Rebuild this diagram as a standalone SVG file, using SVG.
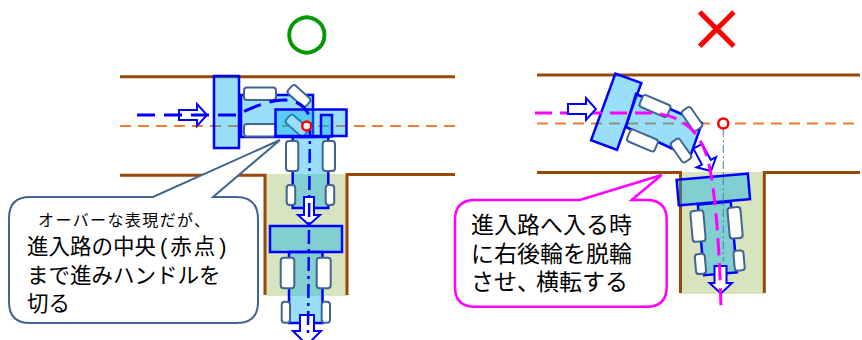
<svg xmlns="http://www.w3.org/2000/svg" width="862" height="340" viewBox="0 0 862 340">
<defs>
<style>
.road{stroke:#984807;stroke-width:3;fill:none}
.pit{fill:#d7e4bd}
.center{stroke:#ed7d31;stroke-width:2;stroke-dasharray:11 7;fill:none}
.veh{fill:#00b0f0;fill-opacity:0.4;stroke:#0000ff;stroke-width:2.5}
.wheel{fill:#ffffff;stroke:#41658f;stroke-width:2}
.arrow{fill:#ffffff;stroke:#0000ff;stroke-width:2}
.pb{stroke:#0000ff;stroke-width:3;fill:none;stroke-dasharray:18 9}
.pbv{stroke:#0000ff;stroke-width:2.5;fill:none;stroke-dasharray:14 5 3 5}
.pm{stroke:#ff00ff;stroke-width:3;fill:none;stroke-dasharray:17 8}
.dot{fill:#ffffff;stroke:#ff0000;stroke-width:2.5}
.call{fill:#ffffff;stroke:#41658f;stroke-width:2}
.callm{fill:#ffffff;stroke:#ff00ff;stroke-width:2.5}
.t{font-family:"Liberation Sans","Noto Sans CJK JP","Noto Sans CJK SC",sans-serif;fill:#000000}
.ok{font-family:"DejaVu Sans","Noto Sans CJK JP",sans-serif;fill:#009900;stroke:#009900;stroke-width:1}
.ng{font-family:"Noto Sans CJK JP","Noto Sans CJK SC",sans-serif;fill:#ff0000;stroke:#ff0000;stroke-width:1.2}
</style>
<path id="arr" class="arrow" d="M -28 -5 L -10 -5 L -10 -11 L 0 0 L -10 11 L -10 5 L -28 5 Z"/>
</defs>

<g id="marks">
<text class="ok" x="306.7" y="48" font-size="50" text-anchor="middle">○</text>
<text class="ng" x="716.7" y="50" font-size="56" text-anchor="middle">×</text>
</g>

<g id="road-left">
<rect class="pit" x="266" y="174" width="81" height="122"/>
<path class="road" d="M120 76.7 H455 M120 175.3 H265 V295 M347 295 V174.5 H455"/>
<path class="center" d="M120 126 H455"/>
</g>

<g id="road-right">
<rect class="pit" x="681" y="172" width="83" height="122"/>
<path class="road" d="M537 75 H860 M537 172.5 H680.5 V293 M764.3 293 V172.5 H860"/>
<path class="center" d="M537 123.5 H860"/>
</g>

<g id="left-vehicle-1">
<rect class="veh" x="214" y="76" width="25" height="72"/>
<rect class="veh" x="241" y="95" width="72" height="42"/>
<rect class="wheel" x="244" y="87.5" width="32" height="12.5" rx="3"/>
<rect class="wheel" x="244" y="124" width="32" height="12.5" rx="3"/>
<rect class="wheel" x="-12" y="-5.5" width="24" height="11" rx="3" transform="translate(299 96) rotate(42)"/>
<rect class="wheel" x="-12" y="-5.5" width="24" height="11" rx="3" transform="translate(297 125.5) rotate(42)"/>
</g>

<g id="left-vehicle-2">
<rect class="veh" x="275.5" y="109.5" width="71" height="26.5"/>
<rect class="veh" x="321" y="115" width="11" height="21.5"/>
<rect class="veh" x="292.7" y="137" width="35.6" height="71"/>
<rect class="wheel" x="286" y="141" width="12.3" height="30" rx="3"/>
<rect class="wheel" x="322.7" y="141" width="12.3" height="30" rx="3"/>
<rect class="wheel" x="286.7" y="185" width="8.5" height="20" rx="3"/>
<rect class="wheel" x="325.7" y="185" width="8.5" height="20" rx="3"/>
</g>

<g id="left-vehicle-3">
<rect class="veh" x="270" y="226" width="72" height="26"/>
<rect class="veh" x="289" y="252" width="33.5" height="71"/>
<rect class="wheel" x="280.7" y="257.7" width="13.6" height="30.6" rx="3"/>
<rect class="wheel" x="316.7" y="257.7" width="14" height="30.6" rx="3"/>
<rect class="wheel" x="281.7" y="301.7" width="8.3" height="21" rx="3"/>
<rect class="wheel" x="321.7" y="301.7" width="8.3" height="21" rx="3"/>
</g>

<g id="right-vehicle-1">
<rect class="veh" x="-13.8" y="-35.5" width="27.6" height="71" transform="translate(616.2 111.7) rotate(20)"/>
<polygon class="veh" points="636,94 702,123 690,157 626,127"/>
<rect class="wheel" x="-15" y="-6.5" width="30" height="13" rx="3" transform="translate(655 106) rotate(23)"/>
<rect class="wheel" x="-15" y="-6.5" width="30" height="13" rx="3" transform="translate(642.5 140.5) rotate(23)"/>
<rect class="wheel" x="-12" y="-5.5" width="24" height="11" rx="3" transform="translate(692 119) rotate(55)"/>
<rect class="wheel" x="-12" y="-5.5" width="24" height="11" rx="3" transform="translate(681 150.5) rotate(55)"/>
</g>

<g id="right-vehicle-2" transform="rotate(-5 717 240)">
<rect class="veh" x="682" y="176.6" width="71.5" height="25.6"/>
<rect class="veh" x="701" y="203" width="33" height="71"/>
<rect class="wheel" x="692.8" y="209" width="13" height="31" rx="3"/>
<rect class="wheel" x="730" y="209" width="13" height="31" rx="3"/>
<rect class="wheel" x="693.4" y="252.4" width="10" height="20" rx="3"/>
<rect class="wheel" x="732.2" y="252.4" width="10" height="20" rx="3"/>
</g>

<g id="connectors">
<use href="#arr" transform="translate(207 115)"/>
<use href="#arr" transform="translate(309 225) rotate(90)"/>
<path class="arrow" d="M300 315 H314 V331 H321 L307 345 L293 331 H300 Z"/>
<use href="#arr" transform="translate(711 171) rotate(62)"/>
<path class="arrow" d="M714.5 266 H726.5 V283 H732 L721 293.5 L709.5 283 H714.5 Z"/>
<path class="pb" d="M137 115 H237 C262 102 300 88 310 118"/>
<path class="pbv" d="M310 122 L308 335"/>
<path class="pm" d="M535 113 H648 C680 113 700 130 708 160 C714 185 719 230 721 308"/>
<use href="#arr" transform="translate(596 109)"/>
<path d="M723.3 129 V262" stroke="#4a7ebb" stroke-width="1" stroke-dasharray="8 3 2 3" fill="none"/>
<circle class="dot" cx="306.7" cy="126" r="4.5"/>
<circle class="dot" cx="723.3" cy="123.5" r="5"/>
</g>

<g id="callout-left">
<path class="call" d="M30 197 H153 L280 140 L213 197 H236 Q258 197 258 219 V302 Q258 323 237 323 H30 Q9 323 9 302 V218 Q9 197 30 197 Z"/>
<text class="t"><tspan x="38" y="225.5" font-size="16" letter-spacing="1.4">オーバーな表現だが、</tspan><tspan x="27" y="253.5" font-size="21.5">進入路の中央</tspan><tspan font-size="21.5" dx="4">(</tspan><tspan font-size="21.5" dx="3">赤</tspan><tspan font-size="21.5" dx="2">点</tspan><tspan font-size="21.5" dx="4">)</tspan><tspan x="27" y="282.5" font-size="21.5">まで進みハンドルを</tspan><tspan x="27" y="310.5" font-size="21.5">切る</tspan></text>
</g>

<g id="callout-right">
<path class="callm" d="M475 200 H580 L661.7 175 L631.7 200 H646.7 Q666.7 200 666.7 220 V286.7 Q666.7 306.7 646.7 306.7 H475 Q455 306.7 455 286.7 V220 Q455 200 475 200 Z"/>
<text class="t" font-size="23"><tspan x="471" y="233">進入路へ入る時</tspan><tspan x="471" y="261.5">に右後輪を脱輪</tspan><tspan x="471" y="290">させ、</tspan><tspan dx="-4">横転する</tspan></text>
</g>
</svg>
